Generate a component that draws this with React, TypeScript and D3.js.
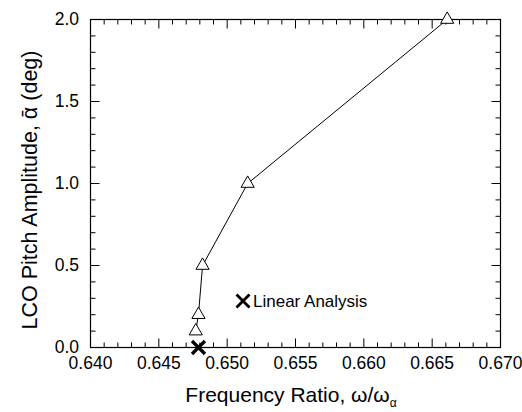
import React from "react";
import * as d3 from "d3";

const freqRatio = [0.6477, 0.6479, 0.6482, 0.6515, 0.6661];
const amplitude = [0.1, 0.2, 0.5, 1.0, 2.0];
const linearFreq = [0.6479];
const linearAmp = [0.0];
const xTicks = [0.64, 0.645, 0.65, 0.655, 0.66, 0.665, 0.67];
const yTicks = [0, 0.5, 1.0, 1.5, 2.0];
const legendLabel = "Linear Analysis";
const xTitle = "Frequency Ratio, ω/ω";
const xTitleSub = "α";
const yTitle = "LCO Pitch Amplitude, \u1FB1 (deg)";

const W = 522, H = 412;
const L = 90.5, R = 500.5, T = 19.5, B = 347.5;

export default function App() {
  const x = d3.scaleLinear().domain([0.64, 0.67]).range([L, R]);
  const y = d3.scaleLinear().domain([0, 2]).range([B, T]);
  const minorX = d3.range(0, 31).map((i) => 0.64 + i * 0.001);
  const minorY = d3.range(0, 21).map((i) => i * 0.1);
  const isMajX = (v: number) => Math.abs(v * 200 - Math.round(v * 200)) < 1e-6;
  const isMajY = (v: number) => Math.abs(v * 2 - Math.round(v * 2)) < 1e-6;
  const line = d3
    .line<number>()
    .x((_, i) => x(freqRatio[i]))
    .y((d) => y(d));
  const tri = d3.symbol().type(d3.symbolTriangle).size(75)();
  const font = "Liberation Sans, Arial, Helvetica, sans-serif";
  const cross = (cx: number, cy: number, s: number, w: number, key: string) => (
    <g key={key} stroke="#000" strokeWidth={w}>
      <line x1={cx - s} y1={cy - s} x2={cx + s} y2={cy + s} />
      <line x1={cx - s} y1={cy + s} x2={cx + s} y2={cy - s} />
    </g>
  );
  return (
    <svg
      width={W}
      height={H}
      style={{ position: "absolute", left: 0, top: 0, background: "#fff" }}
      fontFamily={font}
    >
      <rect x={0} y={0} width={W} height={H} fill="#fff" />
      {minorX.map((v, i) => {
        const len = isMajX(v) ? 9 : 5;
        const px = x(v);
        return (
          <g key={"tx" + i} stroke="#000" strokeWidth={1}>
            <line x1={px} x2={px} y1={B} y2={B - len} />
            <line x1={px} x2={px} y1={T} y2={T + len} />
          </g>
        );
      })}
      {minorY.map((v, i) => {
        const len = isMajY(v) ? 9 : 5;
        const py = y(v);
        return (
          <g key={"ty" + i} stroke="#000" strokeWidth={1}>
            <line x1={L} x2={L + len} y1={py} y2={py} />
            <line x1={R} x2={R - len} y1={py} y2={py} />
          </g>
        );
      })}
      <rect x={L} y={T} width={R - L} height={B - T} fill="none" stroke="#000" strokeWidth={1.2} />
      {xTicks.map((v, i) => (
        <text key={"xl" + i} x={x(v)} y={369} fontSize={17.5} textAnchor="middle" fill="#000">
          {d3.format(".3f")(v)}
        </text>
      ))}
      {yTicks.map((v, i) => (
        <text key={"yl" + i} x={79} y={y(v) + 5} fontSize={17.5} textAnchor="end" fill="#000">
          {d3.format(".1f")(v)}
        </text>
      ))}
      <path d={line(amplitude) || ""} fill="none" stroke="#000" strokeWidth={1} />
      {amplitude.map((v, i) => (
        <path
          key={"p" + i}
          d={tri || ""}
          transform={`translate(${x(freqRatio[i])},${y(v)})`}
          fill="#fff"
          stroke="#000"
          strokeWidth={1}
        />
      ))}
      {linearAmp.map((v, i) => cross(x(linearFreq[i]), y(v), 6.5, 3.2, "lc" + i))}
      {cross(243, 301, 6.5, 2.8, "leg")}
      <text x={253} y={307} fontSize={17} fill="#000">
        {legendLabel}
      </text>
      <text x={291} y={402} fontSize={21} textAnchor="middle" fill="#000">
        {xTitle}
        <tspan fontSize={12} dy={5}>
          {xTitleSub}
        </tspan>
      </text>
      <text
        transform={`translate(37,190) rotate(-90)`}
        fontSize={21.5}
        textAnchor="middle"
        fill="#000"
      >
        {yTitle}
      </text>
    </svg>
  );
}
